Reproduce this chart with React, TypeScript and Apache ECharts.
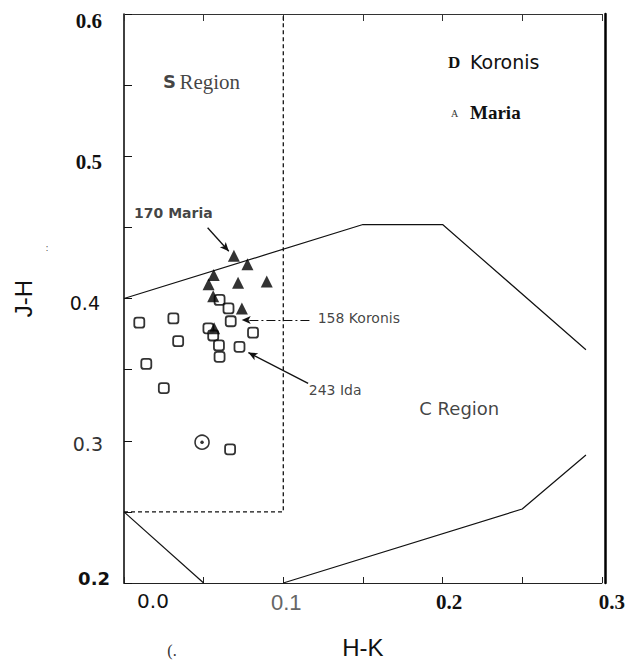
import React, { useEffect, useRef } from 'react';
import * as echarts from 'echarts';

// ---- data (H-K on x, J-H on y) ----
const koronisHK = [0.0096, 0.031, 0.034, 0.014, 0.025, 0.060, 0.0656, 0.067, 0.053, 0.056, 0.0596, 0.060, 0.0725, 0.081, 0.0666];
const koronisJH = [0.383, 0.386, 0.370, 0.354, 0.337, 0.399, 0.393, 0.384, 0.379, 0.374, 0.367, 0.359, 0.366, 0.376, 0.294];
const mariaHK = [0.069, 0.0775, 0.0563, 0.0531, 0.0716, 0.0896, 0.056, 0.074, 0.0566];
const mariaJH = [0.430, 0.424, 0.4166, 0.4101, 0.411, 0.412, 0.4015, 0.393, 0.379];
const sunHK = [0.049];
const sunJH = [0.299];

// region boundaries
const sRegionHK = [0, 0.1, 0.1];
const sRegionJH = [0.25, 0.25, 0.6];
const upperHK = [0, 0.15, 0.2, 0.29];
const upperJH = [0.4, 0.452, 0.452, 0.364];
const lowerLeftHK = [0, 0.05];
const lowerLeftJH = [0.25, 0.2];
const lowerRightHK = [0.1, 0.25, 0.29];
const lowerRightJH = [0.2, 0.252, 0.29];

// annotation arrows: [start, end]
const arrowMariaHK = [0.0525, 0.0658];
const arrowMariaJH = [0.4497, 0.4332];
const arrowKoronisHK = [0.1164, 0.0739];
const arrowKoronisJH = [0.3848, 0.3848];
const arrowIdaHK = [0.1156, 0.0781];
const arrowIdaJH = [0.3403, 0.362];

// annotation texts
const noteTexts = ['170 Maria', '158 Koronis', '243 Ida', 'C Region'];
const noteHK = [0.0313, 0.1219, 0.1163, 0.2108];
const noteJH = [0.4597, 0.3857, 0.3352, 0.3222];
const noteAlign = ['center', 'left', 'left', 'center'];
const sRegionLabelHK = [0.049];
const sRegionLabelJH = [0.552];

const xTickLabels = ['0.0', '0.1', '0.2', '0.3'];
const yTickLabels = ['0.2', '0.3', '0.4', '0.5', '0.6'];

const zip = (a: number[], b: number[]) => a.map((v, i) => [v, b[i]]);

const SANS = '"DejaVu Sans", sans-serif';
const ARIAL = '"Liberation Sans", Arial, sans-serif';
const SERIF = '"Liberation Serif", "Times New Roman", serif';

export default function App() {
  const ref = useRef<HTMLDivElement>(null);
  useEffect(() => {
    if (!ref.current) return;
    const chart = echarts.init(ref.current, undefined, { renderer: 'svg' });

    const xStyleKeys = ['x0', 'x1', 'x2', 'x3'];
    const yStyleKeys = ['y2', 'y3', 'y4', 'y5', 'y6'];

    const option: any = {
      animation: false,
      backgroundColor: '#ffffff',
      grid: { left: 124, right: 21, top: 14, bottom: 77, containLabel: false },
      xAxis: [
        {
          type: 'value',
          min: 0,
          max: 0.3,
          interval: 0.05,
          name: 'H-K',
          nameLocation: 'middle',
          nameGap: 52,
          nameTextStyle: { fontFamily: ARIAL, fontSize: 24, color: '#111' },
          axisLine: { show: true, onZero: false, lineStyle: { color: '#222', width: 1.2 } },
          axisTick: { show: true, inside: true, length: 6, lineStyle: { color: '#222', width: 1 } },
          splitLine: { show: false },
          axisLabel: {
            show: true,
            margin: 8,
            showMinLabel: true,
            showMaxLabel: true,
            hideOverlap: false,
            formatter: (v: number) => {
              const idx = Math.round(v * 10 * 1000) / 1000;
              if (Math.abs(idx - Math.round(idx)) > 1e-6) return '';
              const i = Math.round(idx);
              return i >= 0 && i < xTickLabels.length ? `{${xStyleKeys[i]}|${xTickLabels[i]}}` : '';
            },
            rich: {
              x0: { fontFamily: SANS, fontSize: 20, color: '#111', padding: [0, 0, 0, 58] },
              x1: { fontFamily: '"Liberation Sans Narrow", ' + ARIAL, fontSize: 22, color: '#666', padding: [0, 0, 0, 6] },
              x2: { fontFamily: SERIF, fontWeight: 'bold', fontSize: 21, color: '#111', padding: [0, 0, 0, 13] },
              x3: { fontFamily: SERIF, fontWeight: 'bold', fontSize: 21, color: '#111', padding: [0, 0, 0, 20] },
            },
          },
        },
        {
          type: 'value',
          position: 'top',
          min: 0,
          max: 0.3,
          interval: 0.05,
          axisLine: { show: true, onZero: false, lineStyle: { color: '#333', width: 1.2 } },
          axisTick: { show: true, inside: true, length: 7, lineStyle: { color: '#333', width: 1 } },
          axisLabel: { show: false },
          splitLine: { show: false },
        },
      ],
      yAxis: [
        {
          type: 'value',
          min: 0.2,
          max: 0.6,
          interval: 0.05,
          name: 'J-H',
          nameLocation: 'middle',
          nameRotate: 90,
          nameGap: 89,
          nameTextStyle: { fontFamily: ARIAL, fontSize: 24, color: '#111' },
          axisLine: { show: true, onZero: false, lineStyle: { color: '#111', width: 1.6 } },
          axisTick: { show: true, inside: true, length: 8, lineStyle: { color: '#111', width: 1 } },
          splitLine: { show: false },
          axisLabel: {
            show: true,
            margin: 14,
            showMinLabel: true,
            showMaxLabel: true,
            hideOverlap: false,
            formatter: (v: number) => {
              const t = Math.round((v - 0.2) * 10 * 1000) / 1000;
              if (Math.abs(t - Math.round(t)) > 1e-6) return '';
              const i = Math.round(t);
              return i >= 0 && i < yTickLabels.length ? `{${yStyleKeys[i]}|${yTickLabels[i]}}` : '';
            },
            rich: {
              y2: { fontFamily: SANS, fontWeight: 'bold', fontSize: 18, color: '#111', padding: [0, 0, 10, 0] },
              y3: { fontFamily: SANS, fontSize: 19, color: '#333', padding: [6, 7, 0, 0] },
              y4: { fontFamily: SANS, fontSize: 19, color: '#111', padding: [9, 10, 0, 0] },
              y5: { fontFamily: SERIF, fontWeight: 'bold', fontSize: 21, color: '#111', padding: [12, 8, 0, 0] },
              y6: { fontFamily: SERIF, fontWeight: 'bold', fontSize: 21, color: '#111', padding: [14, 8, 0, 0] },
            },
          },
        },
        {
          type: 'value',
          position: 'right',
          offset: 3,
          min: 0.2,
          max: 0.6,
          axisLine: { show: true, onZero: false, lineStyle: { color: '#000', width: 2.5 } },
          axisTick: { show: false },
          axisLabel: { show: false },
          splitLine: { show: false },
        },
      ],
      series: [
        {
          name: 'S region boundary',
          type: 'line',
          data: zip(sRegionHK, sRegionJH),
          symbol: 'none',
          lineStyle: { color: '#111', width: 1.3, type: [4, 3] },
          silent: true,
          z: 1,
        },
        {
          name: 'upper boundary',
          type: 'line',
          data: zip(upperHK, upperJH),
          symbol: 'none',
          lineStyle: { color: '#111', width: 1.2 },
          silent: true,
          z: 1,
        },
        {
          name: 'lower left boundary',
          type: 'line',
          data: zip(lowerLeftHK, lowerLeftJH),
          symbol: 'none',
          lineStyle: { color: '#111', width: 1.2 },
          silent: true,
          z: 1,
        },
        {
          name: 'lower right boundary',
          type: 'line',
          data: zip(lowerRightHK, lowerRightJH),
          symbol: 'none',
          lineStyle: { color: '#111', width: 1.2 },
          silent: true,
          z: 1,
        },
        {
          name: 'Koronis',
          type: 'scatter',
          data: zip(koronisHK, koronisJH),
          symbol: 'roundRect',
          symbolSize: 10,
          itemStyle: { color: '#fff', borderColor: '#000', borderWidth: 1.8 },
          z: 3,
          markLine: {
            silent: true,
            symbol: ['none', 'arrow'],
            symbolSize: [6, 9],
            label: { show: false },
            lineStyle: { color: '#111', width: 1.3, type: 'solid' },
            data: [
              [{ coord: [arrowMariaHK[0], arrowMariaJH[0]] }, { coord: [arrowMariaHK[1], arrowMariaJH[1]] }],
              [
                { coord: [arrowKoronisHK[0], arrowKoronisJH[0]], lineStyle: { type: [9, 3, 2, 3], width: 1 } },
                { coord: [arrowKoronisHK[1], arrowKoronisJH[1]] },
              ],
              [{ coord: [arrowIdaHK[0], arrowIdaJH[0]] }, { coord: [arrowIdaHK[1], arrowIdaJH[1]] }],
            ],
          },
        },
        {
          name: 'Maria',
          type: 'scatter',
          data: zip(mariaHK, mariaJH),
          symbol: 'triangle',
          symbolSize: 12,
          itemStyle: { color: '#000' },
          z: 4,
        },
        {
          name: 'Sun',
          type: 'scatter',
          data: zip(sunHK, sunJH),
          symbol: 'circle',
          symbolSize: 14,
          itemStyle: { color: '#fff', borderColor: '#000', borderWidth: 1.6 },
          z: 3,
        },
        {
          name: 'Sun dot',
          type: 'scatter',
          data: zip(sunHK, sunJH),
          symbol: 'circle',
          symbolSize: 3.5,
          itemStyle: { color: '#000' },
          z: 5,
        },
        {
          name: 'notes',
          type: 'scatter',
          symbolSize: 1,
          itemStyle: { color: 'rgba(0,0,0,0)' },
          silent: true,
          z: 6,
          data: noteTexts.map((t, i) => ({
            value: [noteHK[i], noteJH[i]],
            label: {
              show: true,
              position: [0, 0],
              formatter: t,
              align: noteAlign[i],
              verticalAlign: 'middle',
              fontFamily: SANS,
              fontSize: i === 3 ? 18 : 14,
              fontWeight: i === 0 ? 'bold' : 'normal',
              color: '#111',
            },
          })),
        },
        {
          name: 'S region label',
          type: 'scatter',
          symbolSize: 1,
          itemStyle: { color: 'rgba(0,0,0,0)' },
          silent: true,
          z: 6,
          data: zip(sRegionLabelHK, sRegionLabelJH).map((v) => ({
            value: v,
            label: {
              show: true,
              position: [0, 0],
              align: 'center',
              verticalAlign: 'middle',
              formatter: '{s|S} {r|Region}',
              rich: {
                s: { fontFamily: SANS, fontWeight: 'bold', fontSize: 18, color: '#111' },
                r: { fontFamily: SERIF, fontSize: 21, color: '#111' },
              },
            },
          })),
        },
      ],
      graphic: [
        { type: 'text', x: 448, y: 62, style: { text: 'D', font: 'bold 17px "Liberation Serif"', fill: '#111', align: 'left', verticalAlign: 'middle' } },
        { type: 'text', x: 470, y: 62, style: { text: 'Koronis', font: '19px "DejaVu Sans"', fill: '#111', align: 'left', verticalAlign: 'middle' } },
        { type: 'text', x: 451, y: 113, style: { text: 'A', font: '10px "Liberation Serif"', fill: '#333', align: 'left', verticalAlign: 'middle' } },
        { type: 'text', x: 470, y: 112, style: { text: 'Maria', font: 'bold 19px "Liberation Serif"', fill: '#111', align: 'left', verticalAlign: 'middle' } },
        { type: 'text', x: 47, y: 248, style: { text: ':', font: '9px "DejaVu Sans"', fill: '#555', align: 'center', verticalAlign: 'middle' } },
        { type: 'text', x: 172, y: 650, style: { text: '(.', font: '16px "Liberation Serif"', fill: '#333', align: 'center', verticalAlign: 'middle' } },
      ],
    };
    chart.setOption(option);
    return () => chart.dispose();
  }, []);

  return (
    <div
      ref={ref}
      style={{ position: 'fixed', left: 0, top: 0, width: 628, height: 664, background: '#fff' }}
    />
  );
}
